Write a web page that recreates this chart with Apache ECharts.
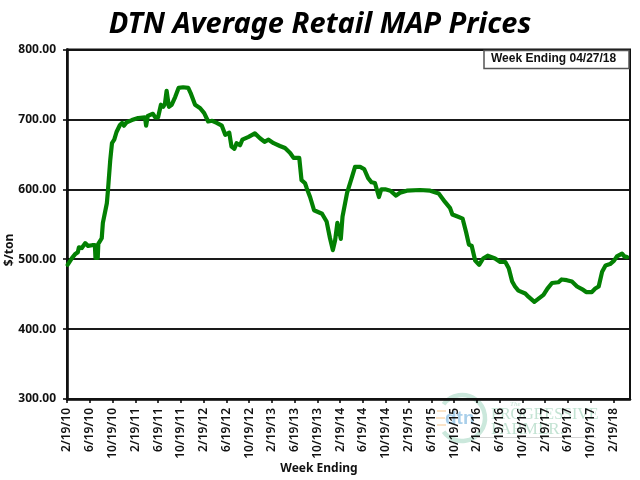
<!DOCTYPE html>
<html><head><meta charset="utf-8">
<script src="https://cdn.jsdelivr.net/npm/echarts@6/dist/echarts.min.js"></script>
<style>html,body{margin:0;padding:0;background:#fff}#c{width:640px;height:480px}</style>
</head><body><div id="c"></div>
<script>
const titleText = 'DTN Average Retail MAP Prices';
const weekLabel = 'Week Ending 04/27/18';
const xName = 'Week Ending';
const yName = '$/ton';
const tickLabels = ['2/19/10','6/19/10','10/19/10','2/19/11','6/19/11','10/19/11','2/19/12','6/19/12','10/19/12','2/19/13','6/19/13','10/19/13','2/19/14','6/19/14','10/19/14','2/19/15','6/19/15','10/19/15','2/19/16','6/19/16','10/19/16','2/19/17','6/19/17','10/19/17','2/19/18'];
const monthsSinceStart = [0.1,0.9,1.4,1.9,2.1,2.6,3.2,3.7,4.4,4.9,5.0,5.4,5.5,6.1,6.3,7.0,7.2,7.3,7.6,7.9,8.3,8.7,9.3,9.7,10.0,10.5,11.4,12.5,13.7,13.9,14.2,15.1,15.5,16.0,16.5,16.9,17.2,17.5,17.8,17.9,18.4,19.0,19.6,20.4,21.3,21.7,22.5,23.4,24.1,24.8,25.5,26.3,27.2,27.8,28.5,28.9,29.4,29.8,30.4,30.8,31.9,33.0,33.9,34.7,35.4,36.3,37.4,38.3,39.2,39.8,40.8,41.2,41.8,42.1,42.7,43.4,44.8,45.6,46.2,46.7,47.1,47.5,47.8,48.1,48.4,49.2,50.0,50.6,51.5,52.2,52.9,53.5,54.1,54.8,55.2,55.9,56.8,57.8,58.5,59.7,62.0,63.8,65.3,66.4,67.3,67.7,68.6,69.5,70.1,70.6,71.1,71.7,72.4,73.1,73.9,75.2,76.1,77.0,77.6,78.2,78.7,79.3,80.5,81.1,82.1,82.9,83.7,84.4,85.2,86.3,86.9,87.8,88.7,89.6,90.7,91.2,92.2,92.8,93.4,94.0,94.6,95.4,96.1,96.6,97.5,97.9,98.4];
const prices = [492,502,507,510,517,516,523,519,520,520,502,502,522,530,552,580,599,610,642,666,671,682,692,695,691,696,699,702,703,691,705,708,703,703,721,718,722,741,740,718,721,732,745,746,745,738,721,716,709,697,698,695,691,678,681,661,658,666,663,671,675,680,673,668,671,666,662,659,652,645,645,613,609,602,589,570,565,554,530,513,527,552,554,529,561,595,616,632,632,629,616,610,609,589,600,600,598,591,595,598,599,598,594,582,573,564,561,558,539,521,519,498,492,501,505,501,496,496,487,468,461,455,451,446,439,444,449,458,466,467,471,470,468,461,456,453,453,458,461,482,491,493,498,504,508,504,503];
const tickStep = 4;
const tickValues = tickLabels.map((_, i) => i * tickStep);
const uiFont = '"Noto Sans", sans-serif';
const chart = echarts.init(document.getElementById('c'), null, {renderer:'canvas'});
chart.setOption({
  animation:false,
  backgroundColor:'#fff',
  title:{text:titleText,left:320,top:5,textAlign:'center',textStyle:{fontFamily:uiFont,fontSize:29,fontWeight:'bold',fontStyle:'italic',color:'#000'}},
  grid:{left:67,right:10,top:49.5,height:349.5,show:true,backgroundColor:'transparent',borderColor:'#111',borderWidth:2,z:3},
  xAxis:{type:'value',min:0,max:98.9,
    axisLine:{show:true,onZero:false,lineStyle:{color:'#000',width:2.5}},
    axisTick:{show:true,length:4,customValues:tickValues,lineStyle:{color:'#000',width:1.5}},
    axisLabel:{customValues:tickValues,rotate:90,margin:9,fontFamily:uiFont,fontSize:12,fontWeight:600,color:'#111',
      formatter:v=>tickLabels[Math.round(v/tickStep)]||''},
    splitLine:{show:false}},
  yAxis:{type:'value',min:300,max:800,interval:100,
    axisLine:{show:true,lineStyle:{color:'#000',width:2.5}},
    axisTick:{show:true,length:4,lineStyle:{color:'#000',width:1.5}},
    axisLabel:{margin:11,fontFamily:uiFont,fontSize:12,fontWeight:'bold',color:'#111',formatter:v=>v.toFixed(2)},
    splitLine:{show:true,lineStyle:{color:'#1a1a1a',width:2}}},
  series:[{type:'line',data:monthsSinceStart.map((m,i)=>[m,prices[i]]),showSymbol:false,symbol:'none',smooth:false,z:5,
    lineStyle:{color:'#038003',width:4.2,join:'round',cap:'round'}}],
  graphic:[
    {type:'group',silent:true,z:0,children:[
      {type:'arc',shape:{cx:462,cy:418,r:23,startAngle:-2.5,endAngle:2.5},style:{stroke:'#cbe8dc',lineWidth:4.5,fill:null},z:0},
      {type:'text',x:445,y:409,style:{text:'dtn',font:'bold 19px "Liberation Sans"',fill:'#a9cfea'},z:0},
      {type:'rect',shape:{x:437,y:410,width:9,height:2},style:{fill:'#fbe3c6'},z:0},
      {type:'rect',shape:{x:436,y:417,width:9,height:2},style:{fill:'#fbe3c6'},z:0},
      {type:'rect',shape:{x:437,y:424,width:9,height:2},style:{fill:'#fbe3c6'},z:0},
      {type:'text',x:510,y:401,style:{text:'The',font:'italic 7px "Liberation Serif"',fill:'#c3e3d3'},z:0},
      {type:'text',x:491,y:407,style:{text:'PROGRESSIVE',font:'16px "Liberation Serif"',fill:'#c3e3d3'},z:0},
      {type:'text',x:491,y:421,style:{text:'FARMER.',font:'17px "Liberation Serif"',fill:'#c3e3d3'},z:0},
      {type:'rect',shape:{x:476,y:437,width:120,height:1},style:{fill:'#d4d4d4'},z:0},
      {type:'rect',shape:{x:520,y:398,width:76,height:1},style:{fill:'#dddddd'},z:0}
    ]},
    {type:'rect',z:20,shape:{x:484,y:50.5,width:145,height:18},style:{fill:'#fff',stroke:'#555',lineWidth:1.5}},
    {type:'text',z:21,x:491,y:53,style:{text:weekLabel,font:'bold 12px "Liberation Sans"',fill:'#111'}},
    {type:'text',z:21,x:319,y:463,style:{text:xName,font:'bold 12px '+uiFont,fill:'#111',textAlign:'center'}},
    {type:'text',z:21,x:10,y:250,rotation:Math.PI/2,style:{text:yName,font:'bold 12px '+uiFont,fill:'#111',textAlign:'center',textVerticalAlign:'middle'}}
  ]
});
chart.setOption({title:{left:315}});
</script></body></html>
